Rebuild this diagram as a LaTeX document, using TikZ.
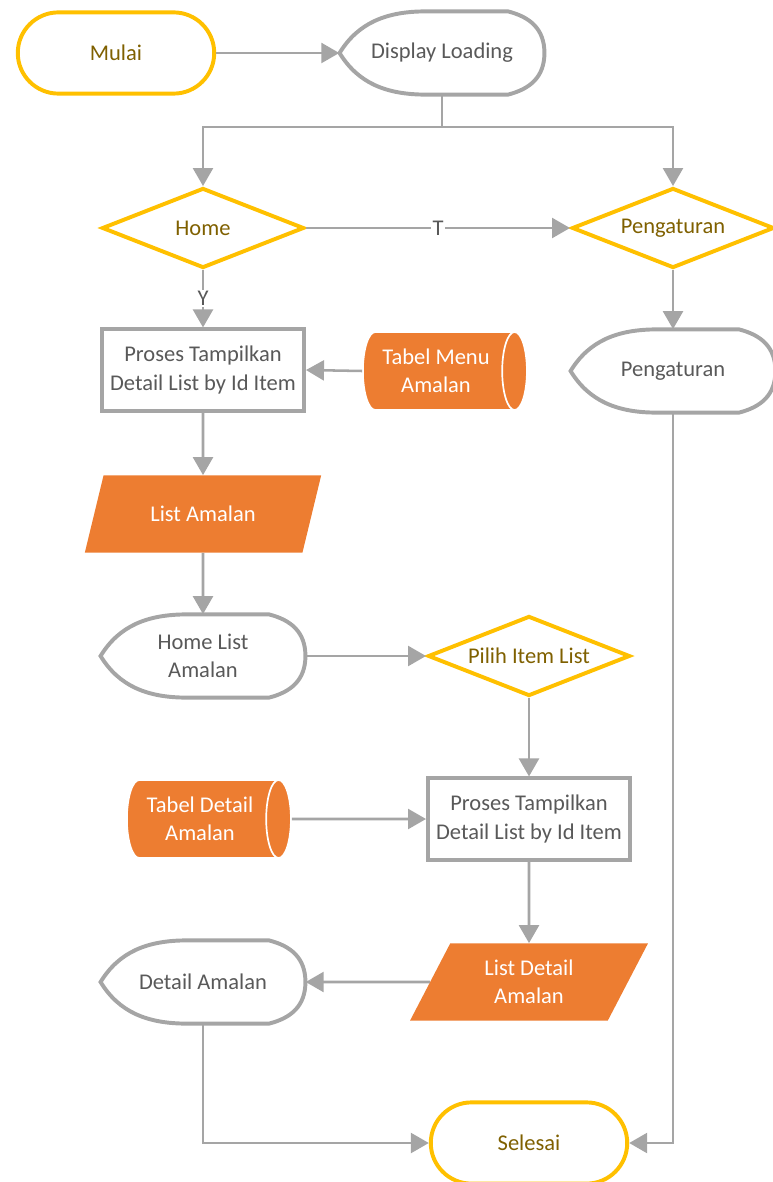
\documentclass[tikz,border=0pt]{standalone}
\usepackage{fontspec}
\setmainfont{Carlito}
\usetikzlibrary{shapes.geometric, shapes.misc, arrows.meta}

\definecolor{kuning}{HTML}{FFC000}
\definecolor{coklat}{HTML}{7F6000}
\definecolor{abu}{HTML}{A5A5A5}
\definecolor{abutua}{HTML}{595959}
\definecolor{oranye}{HTML}{ED7D31}

% garis bentuk display (kiri runcing, kanan melengkung)
\newcommand{\garisdisplay}[1]{\draw[line width = 2.8pt, draw = abu, shift = {(#1.center)}]
  (-2.56cm,0cm) .. controls (-2.1cm,0.75cm) and (-1.4cm,1.04cm) .. (-0.4cm,1.04cm) -- (1.65cm,1.04cm)
  .. controls (2.2cm,0.9cm) and (2.56cm,0.6cm) .. (2.56cm,0cm)
  .. controls (2.56cm,-0.6cm) and (2.2cm,-0.9cm) .. (1.65cm,-1.04cm) -- (-0.4cm,-1.04cm)
  .. controls (-1.4cm,-1.04cm) and (-2.1cm,-0.75cm) .. cycle;}

\begin{document}
\begin{tikzpicture}[x = 0.025cm, y = -0.025cm,
    every node/.style = {font = \fontsize{16pt}{20pt}\selectfont, align = center, inner sep = 2pt},
    terminal/.style = {rounded rectangle, draw = kuning, line width = 2.8pt, text = coklat, minimum width = 5.05cm, minimum height = 2.03cm},
    keputusan/.style = {diamond, aspect = 2.5, draw = kuning, line width = 2.8pt, text = coklat, minimum width = 5.05cm, minimum height = 2cm, inner sep = 0pt},
    layar/.style = {rectangle, text = abutua, minimum width = 5.12cm, minimum height = 2.08cm},
    proses/.style = {rectangle, draw = abu, line width = 2.8pt, fill = white, text = abutua, minimum width = 5.05cm, minimum height = 2.03cm},
    tabel/.style = {cylinder, shape aspect = 0.5, draw = white, line width = 1.2pt, cylinder uses custom fill, cylinder body fill = oranye, cylinder end fill = oranye, text = white, minimum height = 4.1cm, minimum width = 1.95cm},
    data/.style = {trapezium, trapezium left angle = 64, trapezium right angle = 116, trapezium stretches = true, fill = oranye, text = white, minimum width = 5.95cm, minimum height = 1.93cm},
    panah/.style = {draw = abu, line width = 1.8pt, -{Triangle[length = 4.5mm, width = 5mm]}},
    garis/.style = {draw = abu, line width = 1.8pt},
    ket/.style = {fill = white, text = abutua, inner sep = 1pt}]
  \useasboundingbox (0,0) rectangle (772,1182);

  % baris atas
  \node[terminal] (mulai) at (116,53) {Mulai};
  \node[layar] (loading) at (442,53) {Display Loading};
  \garisdisplay{loading}
  \node[keputusan] (home) at (203,228) {Home};
  \node[keputusan] (atur) at (673,228) {Pengaturan};
  \coordinate (cabang) at (442,127);

  % jalur home
  \node[proses] (proses1) at (203,370) {Proses Tampilkan\\Detail List by Id Item};
  \node[tabel] (menu) at (436,371) {Tabel Menu\\Amalan};
  \node[data] (list) at (203,514) {List Amalan};
  \node[layar] (homelist) at (203,656) {Home List\\Amalan};
  \garisdisplay{homelist}
  \node[keputusan] (pilih) at (529,656) {Pilih Item List};
  \node[proses] (proses2) at (529,819) {Proses Tampilkan\\Detail List by Id Item};
  \node[tabel] (detailtab) at (200,819) {Tabel Detail\\Amalan};
  \node[data] (listdetail) at (529,982) {List Detail\\Amalan};
  \node[layar] (detail) at (203,982) {Detail Amalan};
  \garisdisplay{detail}

  % jalur pengaturan
  \node[layar] (aturlayar) at (673,371) {Pengaturan};
  \garisdisplay{aturlayar}
  \node[terminal] (selesai) at (529,1143) {Selesai};

  % penghubung
  \draw[panah] (mulai.east) -- (loading.west);
  \draw[garis] (loading.south) -- (cabang);
  \draw[panah] (cabang) -| (home.north);
  \draw[panah] (cabang) -| (atur.north);
  \draw[panah] (home.east) -- node[ket] {T} (atur.west);
  \draw[panah] (home.south) -- node[ket] {Y} (proses1.north);
  \draw[panah] (menu.west) -- (proses1.east);
  \draw[panah] (proses1.south) -- (list.north);
  \draw[panah] (list.south) -- (homelist.north);
  \draw[panah] (homelist.east) -- (pilih.west);
  \draw[panah] (pilih.south) -- (proses2.north);
  \draw[panah] (detailtab.east) -- (proses2.west);
  \draw[panah] (proses2.south) -- (listdetail.north);
  \draw[panah] (listdetail.west) -- (detail.east);
  \draw[panah] (detail.south) |- (selesai.west);
  \draw[panah] (atur.south) -- (aturlayar.north);
  \draw[panah] (aturlayar.south) |- (selesai.east);
\end{tikzpicture}
\end{document}
